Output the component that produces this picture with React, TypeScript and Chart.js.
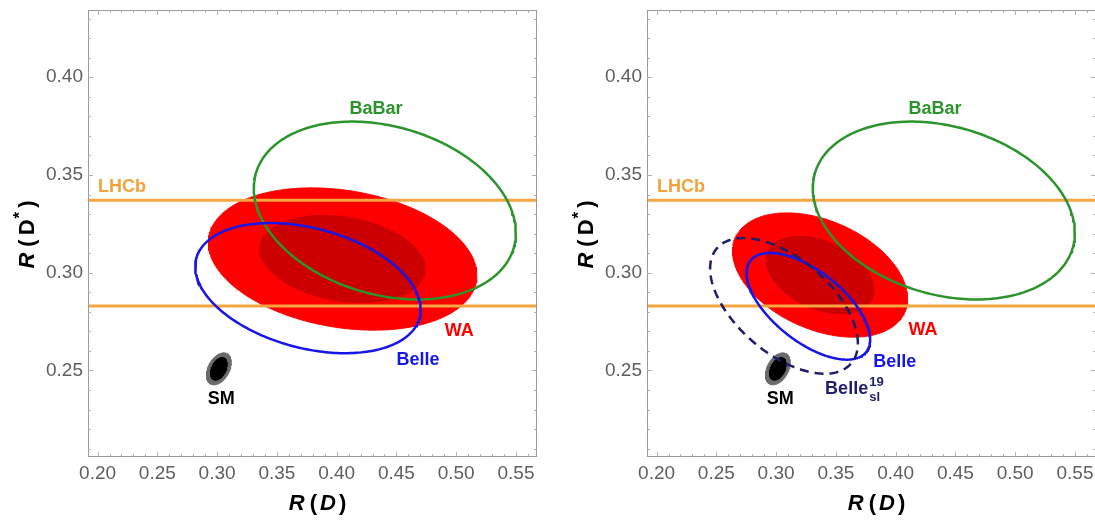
import React, { useEffect, useRef } from "react";
import { Chart, registerables } from "chart.js";

Chart.register(...registerables);

// ---- axes ----
const X_MIN = 0.192;
const X_MAX = 0.5676;
const Y_MIN = 0.2057;
const Y_MAX = 0.4344;
const X_TICKS = [0.2, 0.25, 0.3, 0.35, 0.4, 0.45, 0.5, 0.55];
const Y_TICKS = [0.25, 0.3, 0.35, 0.4];

// ---- LHCb R(D*) band edges ----
const LHCB_BAND = [0.283, 0.337];

// ---- contours: [R(D) centre, R(D*) centre, half-extent R(D), half-extent R(D*), correlation] ----
const WA_OUTER_LEFT = [0.405, 0.307, 0.1124, 0.0364, -0.23];
const WA_INNER_LEFT = [0.405, 0.307, 0.0691, 0.0223, -0.23];
const BELLE_LEFT = [0.376, 0.2921, 0.0943, 0.0333, -0.33];
const BABAR = [0.4403, 0.3318, 0.1096, 0.0455, -0.25];
const SM_OUTER = [0.3015, 0.2508, 0.0104, 0.0082, 0.4];
const SM_INNER = [0.3015, 0.2508, 0.007, 0.0058, 0.4];
const WA_OUTER_RIGHT = [0.3368, 0.2988, 0.0732, 0.0318, -0.38];
const WA_INNER_RIGHT = [0.3368, 0.2988, 0.045, 0.0198, -0.38];
const BELLE_RIGHT = [0.327, 0.2828, 0.0517, 0.0273, -0.62];
const BELLE_SL19 = [0.3066, 0.283, 0.0618, 0.0347, -0.55];

// ---- label anchors [R(D), R(D*)] ----
const LABEL_BABAR = [0.433, 0.3837];
const LABEL_LHCB = [0.2204, 0.3436];
const LABEL_WA_LEFT = [0.5026, 0.27];
const LABEL_BELLE_LEFT = [0.468, 0.2551];
const LABEL_SM = [0.3035, 0.2352];
const LABEL_WA_RIGHT = [0.4228, 0.2705];
const LABEL_BELLE_RIGHT = [0.3992, 0.2545];
const LABEL_BELLE_SL19 = [0.359, 0.2405];

// ---- styles ----
const FONT = '"Liberation Sans", Arial, Helvetica, sans-serif';
const RED = "#ff0000";
const DARKRED = "#cc0000";
const GREEN = "#2c942c";
const BLUE = "#1616e8";
const NAVY = "#1e1e6c";
const ORANGE = "#f5a642";
const ORANGE_TEXT = "#f2a23a";
const GREY = "#6b6b6b";

function ellipsePoints(p: number[]) {
  const [cx, cy, rx, ry, rho] = p;
  const d = Math.acos(rho);
  const pts: { x: number; y: number }[] = [];
  const n = 240;
  for (let i = 0; i <= n; i++) {
    const t = (2 * Math.PI * i) / n;
    pts.push({ x: cx + rx * Math.cos(t), y: cy + ry * Math.cos(t - d) });
  }
  return pts;
}

type Contour = { p: number[]; color: string; fill?: boolean; dash?: number[]; width?: number };
type Label = { text: string; at: number[]; color: string; sub?: string; sup?: string };

const LEFT_PANEL = {
  fills: [
    { p: WA_OUTER_LEFT, color: RED, fill: true },
    { p: WA_INNER_LEFT, color: DARKRED, fill: true },
  ] as Contour[],
  top: [
    { p: SM_OUTER, color: GREY, fill: true },
    { p: SM_INNER, color: "#000000", fill: true },
    { p: BABAR, color: GREEN, width: 2.5 },
    { p: BELLE_LEFT, color: BLUE, width: 2.5 },
  ] as Contour[],
  labels: [
    { text: "BaBar", at: LABEL_BABAR, color: GREEN },
    { text: "LHCb", at: LABEL_LHCB, color: ORANGE_TEXT },
    { text: "WA", at: LABEL_WA_LEFT, color: RED },
    { text: "Belle", at: LABEL_BELLE_LEFT, color: BLUE },
    { text: "SM", at: LABEL_SM, color: "#000000" },
  ] as Label[],
};

const RIGHT_PANEL = {
  fills: [
    { p: WA_OUTER_RIGHT, color: RED, fill: true },
    { p: WA_INNER_RIGHT, color: DARKRED, fill: true },
  ] as Contour[],
  top: [
    { p: SM_OUTER, color: GREY, fill: true },
    { p: SM_INNER, color: "#000000", fill: true },
    { p: BABAR, color: GREEN, width: 2.5 },
    { p: BELLE_RIGHT, color: BLUE, width: 2.5 },
    { p: BELLE_SL19, color: NAVY, width: 2.5, dash: [9, 6] },
  ] as Contour[],
  labels: [
    { text: "BaBar", at: LABEL_BABAR, color: GREEN },
    { text: "LHCb", at: LABEL_LHCB, color: ORANGE_TEXT },
    { text: "WA", at: LABEL_WA_RIGHT, color: RED },
    { text: "Belle", at: LABEL_BELLE_RIGHT, color: BLUE },
    { text: "Belle", at: LABEL_BELLE_SL19, color: NAVY, sub: "sl", sup: "19" },
    { text: "SM", at: LABEL_SM, color: "#000000" },
  ] as Label[],
};

function contourDataset(c: Contour) {
  return {
    data: ellipsePoints(c.p),
    showLine: true,
    pointRadius: 0,
    pointHoverRadius: 0,
    tension: 0,
    borderColor: c.color,
    backgroundColor: c.color,
    borderWidth: c.fill ? 1 : c.width || 2.5,
    borderDash: c.dash || [],
    fill: c.fill ? "shape" : false,
  };
}

type Piece = { t: string; font: string; dy?: number; gap?: number };

function drawRich(ctx: CanvasRenderingContext2D, pieces: Piece[], cx: number, cy: number, angle: number, color: string) {
  ctx.save();
  ctx.translate(cx, cy);
  ctx.rotate(angle);
  ctx.textAlign = "left";
  ctx.textBaseline = "alphabetic";
  ctx.fillStyle = color;
  const widths = pieces.map((p) => {
    ctx.font = p.font;
    return ctx.measureText(p.t).width;
  });
  const total = widths.reduce((a, w, i) => a + w + (pieces[i].gap || 0), 0);
  let x = -total / 2;
  pieces.forEach((p, i) => {
    x += p.gap || 0;
    ctx.font = p.font;
    ctx.fillText(p.t, x, 8 + (p.dy || 0));
    x += widths[i];
  });
  ctx.restore();
}

const framePlugin = {
  id: "frameTicks",
  afterDraw(chart: any) {
    const { ctx, chartArea: a, scales } = chart;
    ctx.save();
    ctx.strokeStyle = "#9a9a9a";
    ctx.lineWidth = 1;
    ctx.strokeRect(a.left + 0.5, a.top + 0.5, a.right - a.left - 1, a.bottom - a.top - 1);
    ctx.strokeStyle = "#b0b0b0";
    ctx.beginPath();
    for (let k = 20; k <= 56; k++) {
      const v = k / 100;
      const px = Math.round(scales.x.getPixelForValue(v)) + 0.5;
      const len = k % 5 === 0 ? 5 : 3;
      ctx.moveTo(px, a.bottom);
      ctx.lineTo(px, a.bottom - len);
      ctx.moveTo(px, a.top);
      ctx.lineTo(px, a.top + len);
    }
    for (let k = 21; k <= 43; k++) {
      const v = k / 100;
      const py = Math.round(scales.y.getPixelForValue(v)) + 0.5;
      const len = k % 5 === 0 ? 5 : 3;
      ctx.moveTo(a.left, py);
      ctx.lineTo(a.left + len, py);
      ctx.moveTo(a.right, py);
      ctx.lineTo(a.right - len, py);
    }
    ctx.stroke();
    ctx.restore();

    // axis titles
    const bi = `italic bold 22px ${FONT}`;
    const b = `bold 22px ${FONT}`;
    const cxTitle = (a.left + a.right) / 2 + 5;
    drawRich(
      ctx,
      [
        { t: "R", font: bi },
        { t: "(", font: b, gap: 5 },
        { t: "D", font: bi, gap: 3 },
        { t: ")", font: b, gap: 3 },
      ],
      cxTitle,
      502,
      0,
      "#000"
    );
    drawRich(
      ctx,
      [
        { t: "R", font: bi },
        { t: "(", font: b, gap: 6 },
        { t: "D", font: b, gap: 4 },
        { t: "*", font: `bold 17px ${FONT}`, dy: -9, gap: 1 },
        { t: ")", font: b, gap: 4 },
      ],
      a.left - 62,
      (a.top + a.bottom) / 2 + 1,
      -Math.PI / 2,
      "#000"
    );
  },
};

const labelPlugin = {
  id: "regionLabels",
  afterDatasetsDraw(chart: any) {
    const labels: Label[] = chart.options.plugins.regionLabels.labels;
    const { ctx, scales } = chart;
    ctx.save();
    ctx.textBaseline = "middle";
    labels.forEach((l) => {
      const px = scales.x.getPixelForValue(l.at[0]);
      const py = scales.y.getPixelForValue(l.at[1]);
      ctx.fillStyle = l.color;
      ctx.font = `bold 18px ${FONT}`;
      ctx.textAlign = "center";
      ctx.fillText(l.text, px, py);
      if (l.sub || l.sup) {
        const w = ctx.measureText(l.text).width;
        ctx.textAlign = "left";
        ctx.font = `bold 13px ${FONT}`;
        if (l.sup) ctx.fillText(l.sup, px + w / 2 + 1, py - 7);
        if (l.sub) ctx.fillText(l.sub, px + w / 2 + 1, py + 8);
      }
    });
    ctx.restore();
  },
};

function makeConfig(panel: typeof LEFT_PANEL | typeof RIGHT_PANEL): any {
  const list: any[] = [];
  panel.fills.forEach((c) => list.push(contourDataset(c)));
  LHCB_BAND.forEach((v) =>
    list.push({
      data: [
        { x: X_MIN - 0.01, y: v },
        { x: X_MAX + 0.01, y: v },
      ],
      showLine: true,
      pointRadius: 0,
      pointHoverRadius: 0,
      borderColor: ORANGE,
      borderWidth: 3,
      fill: false,
    })
  );
  panel.top.forEach((c) => list.push(contourDataset(c)));
  list.forEach((d, i) => (d.order = 100 - i));

  const tickFont = { family: FONT, size: 19 };
  return {
    type: "scatter",
    data: { datasets: list },
    options: {
      animation: false,
      responsive: false,
      maintainAspectRatio: false,
      events: [],
      layout: { padding: { top: 10, right: 13, left: 0, bottom: 0 } },
      plugins: {
        legend: { display: false },
        tooltip: { enabled: false },
        regionLabels: { labels: panel.labels },
      },
      scales: {
        x: {
          type: "linear",
          min: X_MIN,
          max: X_MAX,
          grid: { display: false, drawTicks: false },
          border: { display: false },
          afterBuildTicks: (s: any) => {
            s.ticks = X_TICKS.map((v) => ({ value: v }));
          },
          afterFit: (s: any) => {
            s.height = 64;
            s.paddingLeft = 0;
            s.paddingRight = 0;
          },
          ticks: {
            padding: 5,
            color: "#5e5e5e",
            font: tickFont,
            maxRotation: 0,
            autoSkip: false,
            callback: (v: any) => Number(v).toFixed(2),
          },
        },
        y: {
          type: "linear",
          min: Y_MIN,
          max: Y_MAX,
          grid: { display: false, drawTicks: false },
          border: { display: false },
          afterBuildTicks: (s: any) => {
            s.ticks = Y_TICKS.map((v) => ({ value: v }));
          },
          afterFit: (s: any) => {
            s.width = 88;
            s.paddingTop = 0;
            s.paddingBottom = 0;
          },
          ticks: {
            padding: 5,
            color: "#5e5e5e",
            font: tickFont,
            autoSkip: false,
            callback: (v: any) => Number(v).toFixed(2),
          },
        },
      },
    },
    plugins: [labelPlugin, framePlugin],
  };
}

export default function App() {
  const leftRef = useRef<HTMLCanvasElement>(null);
  const rightRef = useRef<HTMLCanvasElement>(null);
  useEffect(() => {
    const c1 = new Chart(leftRef.current as HTMLCanvasElement, makeConfig(LEFT_PANEL));
    const c2 = new Chart(rightRef.current as HTMLCanvasElement, makeConfig(RIGHT_PANEL));
    return () => {
      c1.destroy();
      c2.destroy();
    };
  }, []);
  return (
    <div
      style={{
        position: "fixed",
        left: 0,
        top: 0,
        width: 1095,
        height: 521,
        overflow: "hidden",
        background: "#ffffff",
      }}
    >
      <canvas
        ref={leftRef}
        width={550}
        height={521}
        style={{ position: "absolute", left: 0, top: 0, width: 550, height: 521 }}
      />
      <canvas
        ref={rightRef}
        width={550}
        height={521}
        style={{ position: "absolute", left: 559, top: 0, width: 550, height: 521 }}
      />
    </div>
  );
}
